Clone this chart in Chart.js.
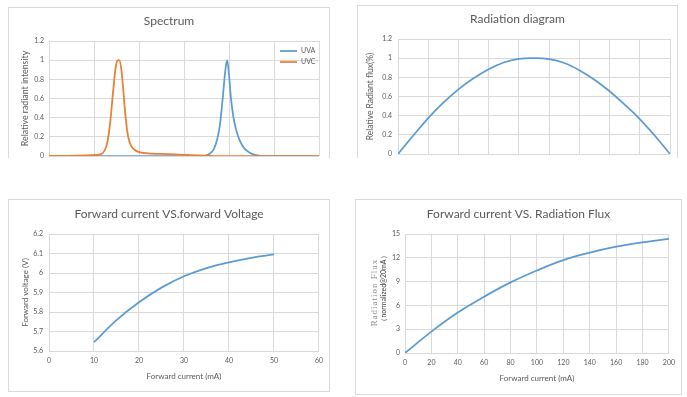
<!DOCTYPE html>
<html>
<head>
<meta charset="utf-8">
<script src="https://cdn.jsdelivr.net/npm/chart.js@4.4.1/dist/chart.umd.min.js"></script>
<style>
  body { margin: 0; background: #fff; width: 687px; height: 397px; overflow: hidden; position: relative; }
  .box { position: absolute; border: 1px solid #d9d9d9; box-sizing: border-box; overflow: hidden; background: #fff; }
  .box.cut { border-bottom: none; }
  .box canvas { position: absolute; left: 0; top: 0; }
</style>
</head>
<body>
<div class="box cut" style="left:8px;top:7px;width:322px;height:151px"><canvas id="spectrum"></canvas></div>
<div class="box cut" style="left:357px;top:5px;width:321px;height:153px"><canvas id="radiation"></canvas></div>
<div class="box" style="left:8px;top:199px;width:322px;height:193px"><canvas id="voltage"></canvas></div>
<div class="box" style="left:355px;top:199px;width:327px;height:196px"><canvas id="flux"></canvas></div>
<script>
'use strict';

// spectrum (wavelength axis has no visible labels in the picture)
const spectrumNm = [200, 230, 250, 258, 262, 265, 268, 271, 274, 276, 278, 280, 282, 284, 286, 288, 291, 295, 300, 310, 330, 350, 365, 372, 378, 383, 387, 390, 393, 396, 398, 400, 402, 405, 408, 412, 417, 423, 430, 440, 460, 500];
const uvaIntensity = [0, 0, 0, 0, 0, 0, 0, 0, 0, 0, 0, 0, 0, 0, 0, 0, 0, 0, 0, 0, 0, 0, 0, 0, 0.02, 0.07, 0.18, 0.33, 0.6, 0.9, 1.0, 0.85, 0.62, 0.4, 0.27, 0.16, 0.08, 0.035, 0.01, 0, 0, 0];
const uvcIntensity = [0, 0.003, 0.01, 0.02, 0.06, 0.15, 0.35, 0.65, 0.92, 0.995, 1.0, 0.93, 0.75, 0.52, 0.33, 0.2, 0.11, 0.065, 0.04, 0.028, 0.02, 0.013, 0.007, 0.004, 0.002, 0, 0, 0, 0, 0, 0, 0, 0, 0, 0, 0, 0, 0, 0, 0, 0, 0];

// radiation diagram
const angleDeg = [-90, -80, -70, -60, -50, -40, -30, -20, -10, 0, 10, 20, 30, 40, 50, 60, 70, 80, 90];
const relativeFlux = [0, 0.19, 0.375, 0.535, 0.675, 0.79, 0.885, 0.955, 0.993, 1.0, 0.99, 0.95, 0.875, 0.775, 0.655, 0.515, 0.365, 0.19, 0];

// forward current vs forward voltage
const currentVf = [10, 15, 20, 25, 30, 35, 40, 45, 50];
const forwardVoltage = [5.645, 5.758, 5.85, 5.925, 5.983, 6.025, 6.055, 6.078, 6.095];

// forward current vs radiation flux
const currentFlux = [0, 20, 40, 60, 80, 100, 120, 140, 160, 180, 200];
const radiationFlux = [0, 2.7, 5.1, 7.1, 8.9, 10.4, 11.7, 12.65, 13.4, 13.95, 14.4];

const GRID = '#d9d9d9';
const TEXT = '#595959';
const BLUE = '#5b9bd5';
const ORANGE = '#ed7d31';
const FONT = 'Lato, "Open Sans", sans-serif';

Chart.defaults.font.family = FONT;
Chart.defaults.color = TEXT;

function xy(xs, ys) {
  return xs.map((x, i) => ({ x: x, y: ys[i] }));
}

function series(label, xs, ys, color, order, sharp) {
  const ds = {
    label: label,
    data: xy(xs, ys),
    borderColor: color,
    backgroundColor: color,
    borderWidth: 1.75,
    pointRadius: 0,
    fill: false,
    order: order || 0
  };
  if (sharp) ds.cubicInterpolationMode = 'monotone';
  else ds.tension = 0.4;
  return ds;
}

function plain(v) {
  return String(+(+v).toFixed(2));
}

// legend drawn inside the plot, top right, like the original
const insideLegend = {
  id: 'insideLegend',
  afterDatasetsDraw(chart) {
    const { ctx, chartArea } = chart;
    ctx.save();
    ctx.font = '7px ' + FONT;
    ctx.fillStyle = TEXT;
    ctx.textBaseline = 'middle';
    chart.data.datasets.forEach((ds, i) => {
      const x = chartArea.right - 39;
      const y = chartArea.top + 10 + i * 11;
      ctx.strokeStyle = ds.borderColor;
      ctx.lineWidth = 1.75;
      ctx.beginPath();
      ctx.moveTo(x, y);
      ctx.lineTo(x + 17, y);
      ctx.stroke();
      ctx.fillText(ds.label, x + 21, y);
    });
    ctx.restore();
  }
};

// two-line y title with mixed fonts
const fluxAxisTitle = {
  id: 'fluxAxisTitle',
  afterDraw(chart) {
    const { ctx, chartArea } = chart;
    const cy = (chartArea.top + chartArea.bottom) / 2 - 1;
    ctx.save();
    ctx.translate(19, cy);
    ctx.rotate(-Math.PI / 2);
    ctx.textAlign = 'center';
    ctx.textBaseline = 'middle';
    ctx.font = '9px "Liberation Serif"';
    ctx.letterSpacing = '1px';
    ctx.fillStyle = '#8c8c8c';
    ctx.fillText('Radiation Flux', 0, 0);
    ctx.font = '7px ' + FONT;
    ctx.letterSpacing = '0px';
    ctx.fillStyle = '#404040';
    ctx.fillText('（normalized@20mA）', 4, 9);
    ctx.restore();
  }
};

function makeChart(id, w, h, datasets, o) {
  const canvas = document.getElementById(id);
  canvas.width = w;
  canvas.height = h;
  canvas.style.width = w + 'px';
  canvas.style.height = h + 'px';
  return new Chart(canvas, {
    type: 'line',
    data: { datasets: datasets },
    options: {
      responsive: false,
      animation: false,
      devicePixelRatio: 1,
      layout: { padding: { left: o.side, right: o.side, top: 0, bottom: 0 } },
      plugins: {
        legend: { display: false },
        tooltip: { enabled: false },
        title: {
          display: true,
          text: o.title,
          color: TEXT,
          font: { size: 12, weight: 'normal' },
          padding: { top: o.titleTop, bottom: o.titleBottom }
        }
      },
      scales: {
        x: {
          type: 'linear',
          min: o.xMin,
          max: o.xMax,
          grid: { color: GRID, drawTicks: false },
          border: { display: false },
          ticks: { display: o.xTicks, stepSize: o.xStep, font: { size: 7 }, padding: 6, color: TEXT, maxRotation: 0, autoSkip: false, callback: plain },
          title: { display: !!o.xTitle, text: o.xTitle, color: TEXT, font: { size: 8 }, padding: { top: 0, bottom: o.xTitlePad || 0 } },
          afterFit: s => { s.height = o.xHeight; }
        },
        y: {
          min: o.yMin,
          max: o.yMax,
          grid: { color: GRID, drawTicks: false },
          border: { display: false },
          ticks: { stepSize: o.yStep, font: { size: 7 }, padding: o.yPad, color: TEXT, autoSkip: false, callback: plain },
          title: { display: !!o.yTitle, text: o.yTitle, color: TEXT, font: { size: o.yTitleSize || 8 }, padding: { top: o.yTitlePad || 0, bottom: 0 } },
          afterFit: s => { s.width = o.yWidth; }
        }
      }
    },
    plugins: o.plugins || []
  });
}

makeChart('spectrum', 320, 200, [
  series('UVA', spectrumNm, uvaIntensity, BLUE, 1, true),
  series('UVC', spectrumNm, uvcIntensity, ORANGE, 0, true)
], {
  title: 'Spectrum', side: 10, titleTop: 6, titleBottom: 12.6,
  xMin: 200, xMax: 500, xStep: 50, xTicks: false, xHeight: 52,
  yMin: 0, yMax: 1.2, yStep: 0.2, yPad: 5, yWidth: 30,
  yTitle: 'Relative radiant intensity', yTitleSize: 8.8, yTitlePad: 0.7,
  plugins: [insideLegend]
});

makeChart('radiation', 319, 200, [
  series('Relative Radiant flux', angleDeg, relativeFlux, BLUE)
], {
  title: 'Radiation diagram', side: 7, titleTop: 6, titleBottom: 12.6,
  xMin: -90, xMax: 90, xStep: 20, xTicks: false, xHeight: 52,
  yMin: 0, yMax: 1.2, yStep: 0.2, yPad: 6, yWidth: 33,
  yTitle: 'Relative Radiant flux(%)', yTitleSize: 8.5, yTitlePad: 0
});

makeChart('voltage', 320, 191, [
  series('Forward voltage', currentVf, forwardVoltage, BLUE)
], {
  title: 'Forward current VS.forward Voltage', side: 10, titleTop: 6.8, titleBottom: 12.8,
  xMin: 0, xMax: 60, xStep: 10, xTicks: true, xHeight: 40,
  xTitle: 'Forward current (mA)', xTitlePad: 10.2,
  yMin: 5.6, yMax: 6.2, yStep: 0.1, yPad: 6, yWidth: 30,
  yTitle: 'Forward voltage (V)', yTitlePad: 1.2
});

makeChart('flux', 325, 194, [
  series('Radiation Flux', currentFlux, radiationFlux, BLUE)
], {
  title: 'Forward current VS. Radiation Flux', side: 11, titleTop: 6.8, titleBottom: 12.8,
  xMin: 0, xMax: 200, xStep: 20, xTicks: true, xHeight: 41,
  xTitle: 'Forward current (mA)', xTitlePad: 11.2,
  yMin: 0, yMax: 15, yStep: 3, yPad: 5, yWidth: 38,
  plugins: [fluxAxisTitle]
});
</script>
</body>
</html>
